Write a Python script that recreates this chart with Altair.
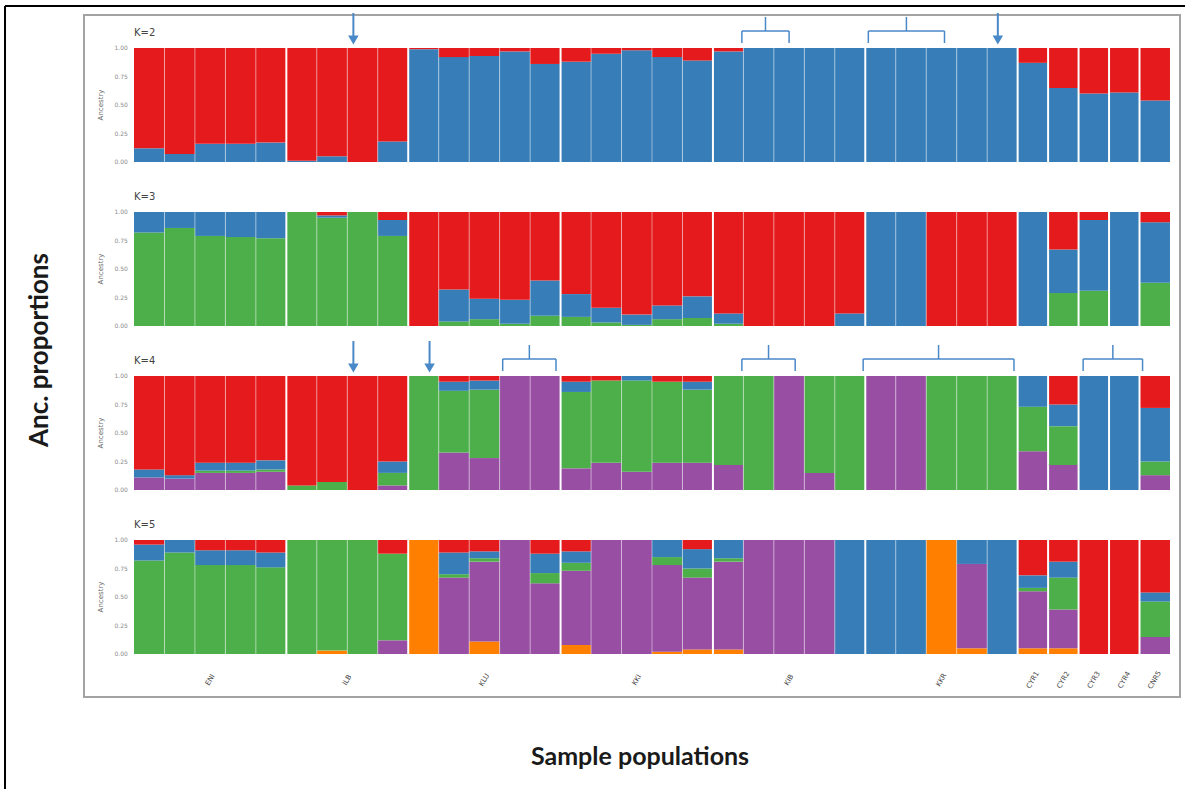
import altair as alt
import pandas as pd

# Populations along the x axis and the number of individuals in each
POPULATIONS = ["ENI", "ILB", "KLU", "KKI", "KIB", "KKR", "CYR1", "CYR2", "CYR3", "CYR4", "CNR5"]
POP_SIZES = [5, 4, 5, 5, 5, 5, 1, 1, 1, 1, 1]

# Ancestry clusters in stacking order (bottom to top) and their colours
CLUSTERS = ["orange", "purple", "green", "blue", "red"]
CLUSTER_COLORS = ["#ff7f00", "#984ea3", "#4daf4a", "#377eb8", "#e41a1c"]

# K=2 ancestry proportions per individual
K2_BLUE = [0.12, 0.07, 0.16, 0.16, 0.17, 0.01, 0.05, 0.00, 0.18, 0.99, 0.92, 0.93, 0.97, 0.86,
           0.88, 0.95, 0.98, 0.92, 0.89, 0.97, 1.00, 1.00, 1.00, 1.00, 1.00, 1.00, 1.00, 1.00, 1.00,
           0.87, 0.65, 0.60, 0.61, 0.54]
K2_RED = [0.88, 0.93, 0.84, 0.84, 0.83, 0.99, 0.95, 1.00, 0.82, 0.01, 0.08, 0.07, 0.03, 0.14,
          0.12, 0.05, 0.02, 0.08, 0.11, 0.03, 0.00, 0.00, 0.00, 0.00, 0.00, 0.00, 0.00, 0.00, 0.00,
          0.13, 0.35, 0.40, 0.39, 0.46]

# K=3
K3_GREEN = [0.82, 0.86, 0.79, 0.78, 0.77, 1.00, 0.95, 1.00, 0.79, 0.00, 0.04, 0.06, 0.02, 0.09,
            0.08, 0.03, 0.01, 0.06, 0.07, 0.02, 0.00, 0.00, 0.00, 0.00, 0.00, 0.00, 0.00, 0.00, 0.00,
            0.00, 0.29, 0.31, 0.00, 0.38]
K3_BLUE = [0.18, 0.14, 0.21, 0.22, 0.23, 0.00, 0.02, 0.00, 0.14, 0.00, 0.28, 0.18, 0.21, 0.31,
           0.20, 0.13, 0.09, 0.12, 0.19, 0.09, 0.00, 0.00, 0.00, 0.11, 1.00, 1.00, 0.00, 0.00, 0.00,
           1.00, 0.38, 0.62, 1.00, 0.53]
K3_RED = [0.00, 0.00, 0.00, 0.00, 0.00, 0.00, 0.03, 0.00, 0.07, 1.00, 0.68, 0.76, 0.77, 0.60,
          0.72, 0.84, 0.90, 0.82, 0.74, 0.89, 1.00, 1.00, 1.00, 0.89, 0.00, 0.00, 1.00, 1.00, 1.00,
          0.00, 0.33, 0.07, 0.00, 0.09]

# K=4
K4_PURPLE = [0.11, 0.10, 0.15, 0.15, 0.16, 0.00, 0.00, 0.00, 0.04, 0.00, 0.33, 0.28, 1.00, 1.00,
             0.19, 0.24, 0.16, 0.24, 0.24, 0.22, 0.00, 1.00, 0.15, 0.00, 1.00, 1.00, 0.00, 0.00, 0.00,
             0.34, 0.22, 0.00, 0.00, 0.13]
K4_GREEN = [0.00, 0.00, 0.02, 0.02, 0.02, 0.04, 0.07, 0.00, 0.11, 1.00, 0.54, 0.60, 0.00, 0.00,
            0.67, 0.72, 0.80, 0.71, 0.64, 0.78, 1.00, 0.00, 0.85, 1.00, 0.00, 0.00, 1.00, 1.00, 1.00,
            0.39, 0.34, 0.00, 0.00, 0.12]
K4_BLUE = [0.07, 0.03, 0.07, 0.07, 0.08, 0.00, 0.00, 0.00, 0.10, 0.00, 0.08, 0.08, 0.00, 0.00,
           0.09, 0.00, 0.04, 0.00, 0.07, 0.00, 0.00, 0.00, 0.00, 0.00, 0.00, 0.00, 0.00, 0.00, 0.00,
           0.27, 0.19, 1.00, 1.00, 0.47]
K4_RED = [0.82, 0.87, 0.76, 0.76, 0.74, 0.96, 0.93, 1.00, 0.75, 0.00, 0.05, 0.04, 0.00, 0.00,
          0.05, 0.04, 0.00, 0.05, 0.05, 0.00, 0.00, 0.00, 0.00, 0.00, 0.00, 0.00, 0.00, 0.00, 0.00,
          0.00, 0.25, 0.00, 0.00, 0.28]

# K=5
K5_ORANGE = [0.00, 0.00, 0.00, 0.00, 0.00, 0.00, 0.03, 0.00, 0.00, 1.00, 0.00, 0.11, 0.00, 0.00,
             0.08, 0.00, 0.00, 0.02, 0.04, 0.04, 0.00, 0.00, 0.00, 0.00, 0.00, 0.00, 1.00, 0.05, 0.00,
             0.05, 0.05, 0.00, 0.00, 0.00]
K5_PURPLE = [0.00, 0.00, 0.00, 0.00, 0.00, 0.00, 0.00, 0.00, 0.12, 0.00, 0.67, 0.70, 1.00, 0.62,
             0.65, 1.00, 1.00, 0.76, 0.63, 0.77, 1.00, 1.00, 1.00, 0.00, 0.00, 0.00, 0.00, 0.74, 0.00,
             0.50, 0.34, 0.00, 0.00, 0.15]
K5_GREEN = [0.82, 0.89, 0.78, 0.78, 0.76, 1.00, 0.97, 1.00, 0.76, 0.00, 0.03, 0.03, 0.00, 0.09,
            0.07, 0.00, 0.00, 0.07, 0.08, 0.03, 0.00, 0.00, 0.00, 0.00, 0.00, 0.00, 0.00, 0.00, 0.00,
            0.03, 0.28, 0.00, 0.00, 0.31]
K5_BLUE = [0.14, 0.11, 0.13, 0.13, 0.13, 0.00, 0.00, 0.00, 0.00, 0.00, 0.19, 0.06, 0.00, 0.17,
           0.10, 0.00, 0.00, 0.15, 0.17, 0.16, 0.00, 0.00, 0.00, 1.00, 1.00, 1.00, 0.00, 0.21, 1.00,
           0.11, 0.14, 0.00, 0.00, 0.08]
K5_RED = [0.04, 0.00, 0.09, 0.09, 0.11, 0.00, 0.00, 0.00, 0.12, 0.00, 0.11, 0.10, 0.00, 0.12,
          0.10, 0.00, 0.00, 0.00, 0.08, 0.00, 0.00, 0.00, 0.00, 0.00, 0.00, 0.00, 0.00, 0.00, 0.00,
          0.31, 0.19, 1.00, 1.00, 0.46]

PANELS = [
    ("K=2", {"blue": K2_BLUE, "red": K2_RED}),
    ("K=3", {"green": K3_GREEN, "blue": K3_BLUE, "red": K3_RED}),
    ("K=4", {"purple": K4_PURPLE, "green": K4_GREEN, "blue": K4_BLUE, "red": K4_RED}),
    ("K=5", {"orange": K5_ORANGE, "purple": K5_PURPLE, "green": K5_GREEN, "blue": K5_BLUE, "red": K5_RED}),
]

# Highlighted individuals: arrows (panel, position) and brackets (panel, start, end)
ARROWS = [("K=2", 7.2), ("K=2", 28.35), ("K=4", 7.2), ("K=4", 9.7)]
BRACKETS = [("K=2", 19.95, 21.5), ("K=2", 24.1, 26.6),
            ("K=4", 12.1, 13.85), ("K=4", 19.95, 21.7), ("K=4", 23.93, 28.88), ("K=4", 31.15, 33.1)]

TICKS = [0.0, 0.25, 0.5, 0.75, 1.0]

# ---- layout (pixels) ----
PLOT_W, PLOT_H = 1096, 682
PX_X = 30.47            # pixels per individual
LEFT_GAP = 50           # frame edge to first bar
PX_Y = 114              # pixels per unit of ancestry
PANEL_STEP = 164 / PX_Y
LOW_BASE = 43 / PX_Y
N = sum(POP_SIZES)

X_DOMAIN = [-LEFT_GAP / PX_X, -LEFT_GAP / PX_X + PLOT_W / PX_X]
Y_DOMAIN = [0, PLOT_H / PX_Y]
ANNOT = "#4a89c8"


def base_of(p):
    return LOW_BASE + PANEL_STEP * (len(PANELS) - 1 - p)


panel_base = {name: base_of(p) for p, (name, _) in enumerate(PANELS)}

# stacked segments
seg_rows = []
for p, (name, comps) in enumerate(PANELS):
    b = panel_base[name]
    for i in range(N):
        lo = 0.0
        for c in CLUSTERS:
            if c not in comps:
                continue
            v = comps[c][i]
            if v > 0:
                seg_rows.append(dict(x=i, x2=i + 1, y=b + lo, y2=b + lo + v, cluster=c))
                lo += v
segs = pd.DataFrame(seg_rows)

# boundaries between individuals / populations
group_edges = []
acc = 0
for s in POP_SIZES[:-1]:
    acc += s
    group_edges.append(acc)
sep_rows = []
for name, _ in PANELS:
    b = panel_base[name]
    for k in range(1, N):
        sep_rows.append(dict(x=k, y=b, y2=b + 1, kind="group" if k in group_edges else "ind"))
seps = pd.DataFrame(sep_rows)

# tick labels, axis titles, K labels
tick_rows, title_rows, k_rows = [], [], []
for name, _ in PANELS:
    b = panel_base[name]
    for t in TICKS:
        tick_rows.append(dict(x=-0.2, y=b + t, label=f"{t:.2f}"))
    title_rows.append(dict(x=-1.08, y=b + 0.5, label="Ancestry"))
    k_rows.append(dict(x=0.0, y=b + 1 + 15 / PX_Y, label=name))
ticks = pd.DataFrame(tick_rows)
titles = pd.DataFrame(title_rows)
klabels = pd.DataFrame(k_rows)

# population labels under the last panel
pop_rows = []
acc = 0
for name, s in zip(POPULATIONS, POP_SIZES):
    pop_rows.append(dict(x=acc + s / 2, y=LOW_BASE - 26 / PX_Y, label=name))
    acc += s
pops = pd.DataFrame(pop_rows)

# annotation geometry
arrow_rows = []
for name, xp in ARROWS:
    top = panel_base[name] + 1
    arrow_rows.append(dict(x=xp, y=top + 35 / PX_Y, y2=top + 12 / PX_Y, yh=top + 8 / PX_Y))
arrows = pd.DataFrame(arrow_rows)

hline_rows, vline_rows = [], []
for name, x0, x1 in BRACKETS:
    top = panel_base[name] + 1
    lvl = top + 17 / PX_Y
    hline_rows.append(dict(x=x0, x2=x1, y=lvl))
    vline_rows.append(dict(x=x0, y=lvl, y2=top + 5 / PX_Y))
    vline_rows.append(dict(x=x1, y=lvl, y2=top + 5 / PX_Y))
    vline_rows.append(dict(x=(x0 + x1) / 2, y=lvl, y2=top + 31 / PX_Y))
hlines = pd.DataFrame(hline_rows)
vlines = pd.DataFrame(vline_rows)

xs = alt.Scale(domain=X_DOMAIN, nice=False, zero=False)
ys = alt.Scale(domain=Y_DOMAIN, nice=False, zero=False)
X = lambda f="x": alt.X(f"{f}:Q", scale=xs, axis=None)
Y = lambda f="y": alt.Y(f"{f}:Q", scale=ys, axis=None)

bars = alt.Chart(segs).mark_rect().encode(
    x=X(), x2="x2:Q", y=Y(), y2="y2:Q",
    color=alt.Color("cluster:N", scale=alt.Scale(domain=CLUSTERS, range=CLUSTER_COLORS), legend=None),
)

thin = alt.Chart(seps).transform_filter(alt.datum.kind == "ind").mark_rule(
    color="white", strokeWidth=1, opacity=0.45
).encode(x=X(), y=Y(), y2="y2:Q")

thick = alt.Chart(seps).transform_filter(alt.datum.kind == "group").mark_rule(
    color="white", strokeWidth=2
).encode(x=X(), y=Y(), y2="y2:Q")

tick_text = alt.Chart(ticks).mark_text(
    align="right", baseline="middle", fontSize=6, color="#8a8a8a", font="DejaVu Sans"
).encode(x=X(), y=Y(), text="label:N")

title_text = alt.Chart(titles).mark_text(
    angle=270, baseline="middle", align="center", fontSize=7, color="#666666", font="DejaVu Sans"
).encode(x=X(), y=Y(), text="label:N")

k_text = alt.Chart(klabels).mark_text(
    align="left", baseline="middle", fontSize=10, color="#444444", font="DejaVu Sans"
).encode(x=X(), y=Y(), text="label:N")

pop_text = alt.Chart(pops).mark_text(
    angle=300, align="center", baseline="middle", fontSize=7, color="#444444", font="DejaVu Sans"
).encode(x=X(), y=Y(), text="label:N")

arrow_shaft = alt.Chart(arrows).mark_rule(color=ANNOT, strokeWidth=2).encode(x=X(), y=Y(), y2="y2:Q")
arrow_head = alt.Chart(arrows).mark_point(
    shape="triangle-down", filled=True, size=110, color=ANNOT, opacity=1
).encode(x=X(), y=Y("yh"))

br_h = alt.Chart(hlines).mark_rule(color=ANNOT, strokeWidth=1.5).encode(x=X(), x2="x2:Q", y=Y())
br_v = alt.Chart(vlines).mark_rule(color=ANNOT, strokeWidth=1.5).encode(x=X(), y=Y(), y2="y2:Q")

one = pd.DataFrame({"t": [0]})
y_title = alt.Chart(one).mark_text(
    text="Anc. proportions", angle=270, align="center", baseline="middle",
    fontSize=26, fontWeight="bold", font="Lato", color="#1a1a1a"
).encode(x=alt.value(-44), y=alt.value(335))
x_title = alt.Chart(one).mark_text(
    text="Sample populations", align="center", baseline="middle",
    fontSize=25, fontWeight="bold", font="Lato", color="#1a1a1a"
).encode(x=alt.value(556), y=alt.value(742))

border_top = alt.Chart(one).mark_rule(color="black", strokeWidth=2).encode(
    x=alt.value(-79), x2=alt.value(1101), y=alt.value(-9))
border_left = alt.Chart(one).mark_rule(color="black", strokeWidth=2).encode(
    x=alt.value(-79), y=alt.value(-9), y2=alt.value(774))

chart = alt.layer(
    bars, thin, thick, tick_text, title_text, k_text, pop_text,
    arrow_shaft, arrow_head, br_h, br_v, y_title, x_title, border_top, border_left,
).properties(
    width=PLOT_W, height=PLOT_H,
    padding={"left": 84, "top": 15, "right": 5, "bottom": 92},
    autosize=alt.AutoSizeParams(type="none"),
    background="white",
).configure_view(stroke="#a3a3a3", strokeWidth=2)

chart.save("out.html", embed_options={"renderer": "svg", "actions": False})
